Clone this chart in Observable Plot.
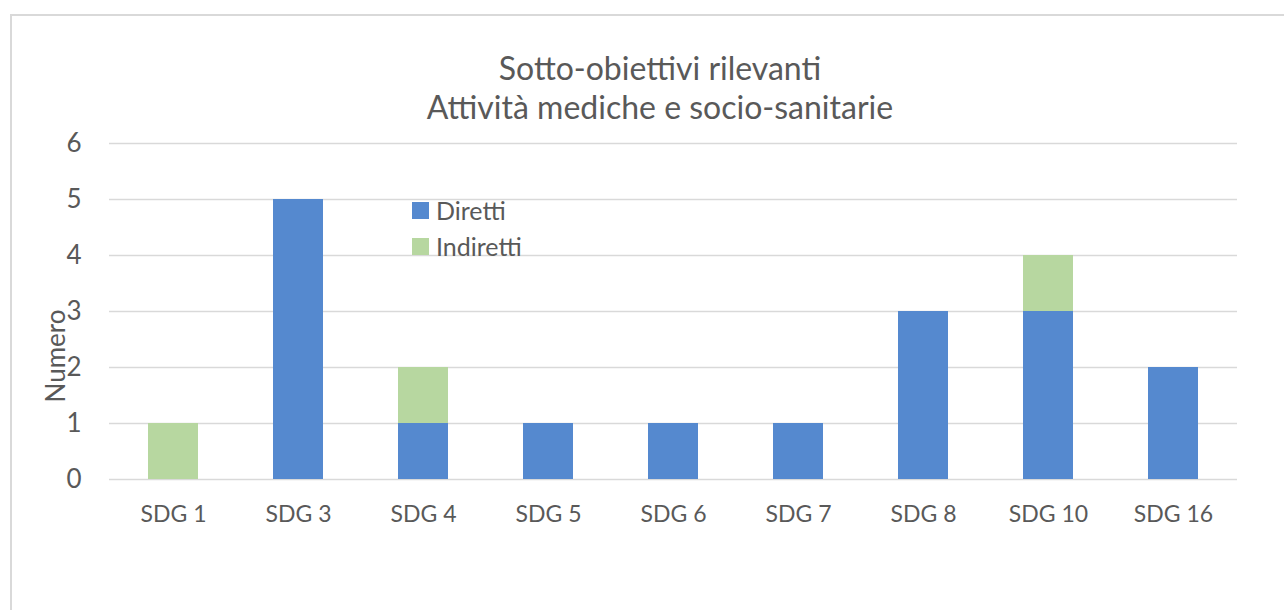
<!DOCTYPE html>
<html>
<head>
<meta charset="utf-8">
<script src="https://cdn.jsdelivr.net/npm/d3@7"></script>
<script src="https://cdn.jsdelivr.net/npm/@observablehq/plot@0.6"></script>
<style>
  html, body { margin: 0; padding: 0; background: #fff; overflow: hidden; }
  #wrap { position: relative; width: 1284px; height: 610px; font-family: Lato, "Open Sans", sans-serif; color: #595959; }
  #wrap svg { position: absolute; left: 0; top: 0; }
  #border { position: absolute; left: 10px; top: 14px; width: 1300px; height: 700px; border: 2px solid #d9d9d9; box-sizing: border-box; }
  .title { position: absolute; left: 310px; width: 700px; text-align: center; font-size: 32px; line-height: 1; white-space: nowrap; }
  #ylabel { position: absolute; left: 55px; top: 356px; transform: translate(-50%, -50%) rotate(-90deg); font-size: 26px; line-height: 1; white-space: nowrap; }
  #legend { position: absolute; left: 412px; top: 201px; font-size: 25px; }
  .item { position: relative; height: 36px; }
  .sw { position: absolute; left: 0; top: 1px; width: 17px; height: 17px; }
  .lab { position: absolute; left: 24px; top: -3px; line-height: 1; white-space: nowrap; }
</style>
</head>
<body>
<div id="wrap">
  <div id="border"></div>
</div>
<script>
const titleLines = ["Sotto-obiettivi rilevanti", "Attività mediche e socio-sanitarie"];
const yLabel = "Numero";
const categories = ["SDG 1", "SDG 3", "SDG 4", "SDG 5", "SDG 6", "SDG 7", "SDG 8", "SDG 10", "SDG 16"];
const diretti   = [0, 5, 1, 1, 1, 1, 3, 3, 2];
const indiretti = [1, 0, 1, 0, 0, 0, 0, 1, 0];
const series = ["Diretti", "Indiretti"];
const colors = ["#5589cf", "#b7d7a0"];
const yTicks = [0, 1, 2, 3, 4, 5, 6];

const data = categories.flatMap((c, i) => [
  {sdg: c, serie: series[0], n: diretti[i]},
  {sdg: c, serie: series[1], n: indiretti[i]}
]);

const chart = Plot.plot({
  width: 1284,
  height: 610,
  marginLeft: 109,
  marginRight: 47,
  marginTop: 143,
  marginBottom: 131,
  style: {fontFamily: "Lato, 'Open Sans', sans-serif", color: "#595959", background: "transparent"},
  x: {domain: categories, paddingInner: 0.6, paddingOuter: 0.3, label: null},
  y: {domain: [0, 6], label: null},
  color: {domain: series, range: colors},
  marks: [
    Plot.gridY(yTicks, {stroke: "#d9d9d9", strokeOpacity: 1, strokeWidth: 1.6}),
    Plot.barY(data, {x: "sdg", y: "n", fill: "serie"}),
    Plot.axisX({tickSize: 0, tickPadding: 26, fontSize: 23, label: null}),
    Plot.axisY(yTicks, {tickSize: 0, tickPadding: 28, fontSize: 26, label: null, tickFormat: d3.format("d")})
  ]
});

const wrap = document.getElementById("wrap");
wrap.appendChild(chart);

titleLines.forEach((t, i) => {
  const d = document.createElement("div");
  d.className = "title";
  d.style.top = (52 + i * 39) + "px";
  d.textContent = t;
  wrap.appendChild(d);
});

const yl = document.createElement("div");
yl.id = "ylabel";
yl.textContent = yLabel;
wrap.appendChild(yl);

const lg = document.createElement("div");
lg.id = "legend";
series.forEach((s, i) => {
  const it = document.createElement("div");
  it.className = "item";
  const sw = document.createElement("div");
  sw.className = "sw";
  sw.style.background = colors[i];
  const lb = document.createElement("div");
  lb.className = "lab";
  lb.textContent = s;
  it.appendChild(sw);
  it.appendChild(lb);
  lg.appendChild(it);
});
wrap.appendChild(lg);
</script>
</body>
</html>
